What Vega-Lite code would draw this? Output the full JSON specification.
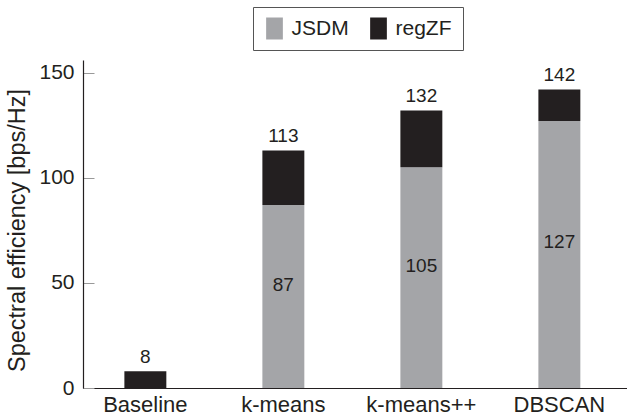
{
  "$schema": "https://vega.github.io/schema/vega-lite/v6.json",
  "width": 544,
  "height": 328,
  "autosize": {"type": "none"},
  "padding": {"left": 83, "top": 60, "right": 0, "bottom": 32},
  "config": {
    "view": {"stroke": null},
    "font": "Liberation Sans",
    "text": {"font": "Liberation Sans", "fontSize": 19, "color": "#231f20"}
  },
  "data": {
    "values": [
      {"method": "Baseline", "series": "JSDM", "value": 0},
      {"method": "Baseline", "series": "regZF", "value": 8},
      {"method": "k-means", "series": "JSDM", "value": 87},
      {"method": "k-means", "series": "regZF", "value": 26},
      {"method": "k-means++", "series": "JSDM", "value": 105},
      {"method": "k-means++", "series": "regZF", "value": 27},
      {"method": "DBSCAN", "series": "JSDM", "value": 127},
      {"method": "DBSCAN", "series": "regZF", "value": 15}
    ]
  },
  "encoding": {
    "x": {
      "field": "method",
      "type": "nominal",
      "sort": ["Baseline", "k-means", "k-means++", "DBSCAN"],
      "scale": {"paddingInner": 0.696, "paddingOuter": 0.319, "align": 0.47},
      "axis": {
        "title": null,
        "labelAngle": 0,
        "ticks": false,
        "domainColor": "#231f20",
        "domainWidth": 1.2,
        "labelFont": "Liberation Sans",
        "labelFontSize": 22,
        "labelColor": "#231f20",
        "labelPadding": 6
      }
    }
  },
  "layer": [
    {
      "mark": {"type": "bar"},
      "encoding": {
        "y": {
          "field": "value",
          "type": "quantitative",
          "stack": "zero",
          "scale": {"domain": [0, 156], "nice": false},
          "axis": {
            "title": "Spectral efficiency [bps/Hz]",
            "titleFont": "Liberation Sans",
            "titleFontSize": 23.5,
            "titleFontWeight": "normal",
            "titleColor": "#231f20",
            "titlePadding": 9,
            "titleY": 170,
            "values": [0, 50, 100, 150],
            "grid": false,
            "tickSize": -11,
            "tickColor": "#999999",
            "tickWidth": 1,
            "domainColor": "#231f20",
            "domainWidth": 1.2,
            "labelFont": "Liberation Sans",
            "labelFontSize": 21,
            "labelColor": "#231f20",
            "labelPadding": 20
          }
        },
        "color": {
          "field": "series",
          "type": "nominal",
          "scale": {"domain": ["JSDM", "regZF"], "range": ["#a4a5a8", "#231f20"]},
          "legend": {
            "title": null,
            "orient": "none",
            "direction": "horizontal",
            "legendX": 170,
            "legendY": -53,
            "strokeColor": "#555555",
            "padding": 10.5,
            "symbolType": "M-0.76,-1H0.76V1H-0.76Z",
            "symbolSize": 484,
            "symbolStrokeWidth": 0,
            "labelFont": "Liberation Sans",
            "labelFontSize": 21,
            "labelColor": "#231f20",
            "labelOffset": 6,
            "columnPadding": 18
          }
        },
        "order": {"field": "series", "sort": "ascending"}
      }
    },
    {
      "transform": [
        {"aggregate": [{"op": "sum", "field": "value", "as": "total"}], "groupby": ["method"]}
      ],
      "mark": {"type": "text", "baseline": "bottom", "dy": -4},
      "encoding": {
        "y": {"field": "total", "type": "quantitative", "scale": {"domain": [0, 156], "nice": false}, "axis": null},
        "text": {"field": "total", "type": "quantitative"}
      }
    },
    {
      "transform": [
        {"filter": "datum.series === 'JSDM' && datum.value > 0"}
      ],
      "mark": {"type": "text", "baseline": "middle", "dy": -12},
      "encoding": {
        "y": {"field": "value", "type": "quantitative", "scale": {"domain": [0, 312], "nice": false}, "axis": null},
        "text": {"field": "value", "type": "quantitative"}
      }
    }
  ],
  "resolve": {"scale": {"y": "independent"}}
}
